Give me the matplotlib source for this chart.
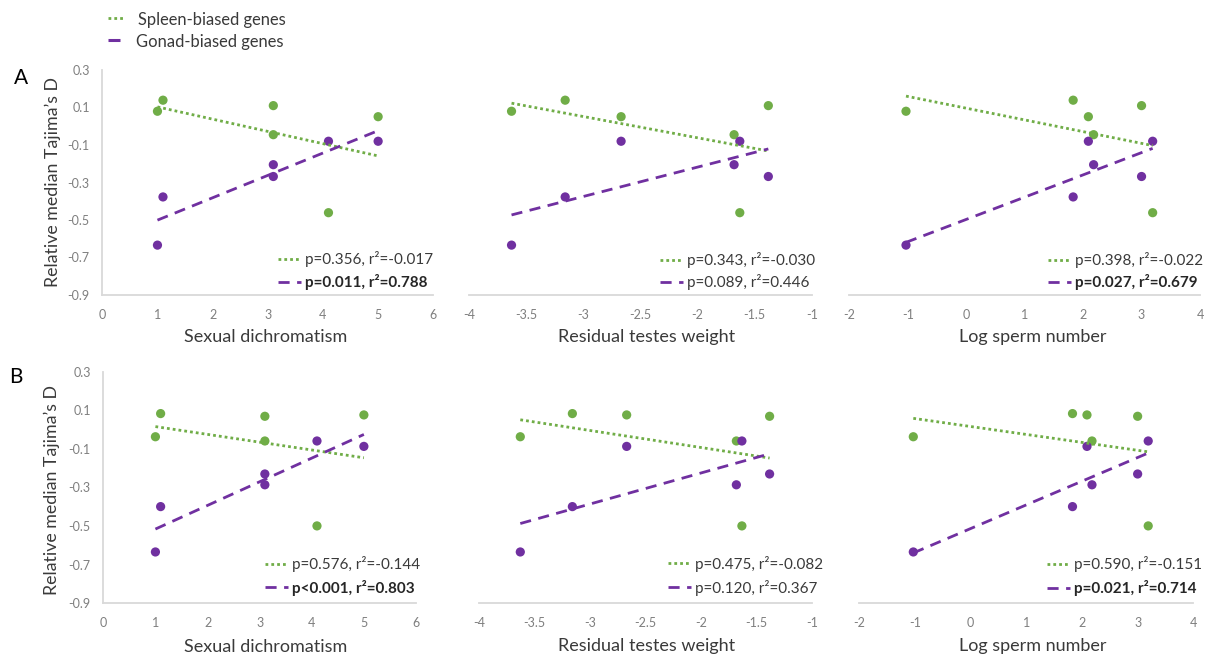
import numpy as np
import matplotlib
matplotlib.use("Agg")
import matplotlib.pyplot as plt
from matplotlib.lines import Line2D

plt.rcParams['font.family'] = ['Lato', 'DejaVu Sans']
plt.rcParams['axes.unicode_minus'] = False

# ---- data (six species; same species order in every array) ----
sexual_dichromatism = [1.0, 1.1, 5.0, 3.1, 4.1, 3.1]
residual_testes_weight = [-3.63, -3.16, -2.67, -1.68, -1.63, -1.38]
log_sperm_number = [-1.03, 1.83, 2.09, 2.18, 3.19, 3.00]

# Relative median Tajima's D, panel A
a_spleen = [0.080, 0.139, 0.051, -0.045, -0.461, 0.110]
a_gonad = [-0.634, -0.377, -0.080, -0.205, -0.080, -0.268]
# Relative median Tajima's D, panel B
b_spleen = [-0.037, 0.083, 0.076, -0.059, -0.499, 0.069]
b_gonad = [-0.634, -0.399, -0.087, -0.286, -0.059, -0.230]

predictor_labels = ["Sexual dichromatism", "Residual testes weight", "Log sperm number"]
x_limits = [(0, 6), (-4, -1), (-2, 4)]
x_ticks = [[0, 1, 2, 3, 4, 5, 6],
           [-4, -3.5, -3, -2.5, -2, -1.5, -1],
           [-2, -1, 0, 1, 2, 3, 4]]
y_ticks = [-0.9, -0.7, -0.5, -0.3, -0.1, 0.1, 0.3]

# regression statistics: (p, r2, significant) for spleen and gonad
a_spleen_stats = [("p=0.356", "-0.017", False), ("p=0.343", "-0.030", False), ("p=0.398", "-0.022", False)]
a_gonad_stats = [("p=0.011", "0.788", True), ("p=0.089", "0.446", False), ("p=0.027", "0.679", True)]
b_spleen_stats = [("p=0.576", "-0.144", False), ("p=0.475", "-0.082", False), ("p=0.590", "-0.151", False)]
b_gonad_stats = [("p<0.001", "0.803", True), ("p=0.120", "0.367", False), ("p=0.021", "0.714", True)]

GREEN = "#70AD47"
PURPLE = "#7030A0"
TEXT = "#3A3A3A"
TICK = "#7F7F7F"
AXIS = "#D9D9D9"

W, H = 1213, 662
fig = plt.figure(figsize=(W / 100, H / 100), dpi=100)
fig.patch.set_facecolor("white")

# pixel boxes for the plotting areas: (left, right, top, bottom)
boxes = {
    ("A", 0): (102.3, 433.3, 70, 295),
    ("A", 1): (469.3, 811.7, 70, 295),
    ("A", 2): (849.3, 1200.0, 70, 295),
    ("B", 0): (103.3, 416.0, 371.7, 603.3),
    ("B", 1): (479.3, 811.7, 371.7, 603.3),
    ("B", 2): (859.3, 1193.3, 371.7, 603.3),
}
# x-axis title centres (x) per column and baseline centres (y) per row
xlabel_x = [265.5, 647, 1033]
xlabel_y = {"A": 337, "B": 646.5}

predictors = [sexual_dichromatism, residual_testes_weight, log_sperm_number]
rows = {"A": (a_spleen, a_gonad, a_spleen_stats, a_gonad_stats),
        "B": (b_spleen, b_gonad, b_spleen_stats, b_gonad_stats)}

DOT = dict(color=GREEN, lw=2.0, linestyle=(0, (1, 1.1)), solid_capstyle="butt", dash_capstyle="butt")
DASH = dict(color=PURPLE, lw=2.0, linestyle=(0, (4, 2.7)), dash_capstyle="butt")

for row, (spleen, gonad, sst, gst) in rows.items():
    for col in range(3):
        l, r, t, b = boxes[(row, col)]
        ax = fig.add_axes([l / W, 1 - b / H, (r - l) / W, (b - t) / H])
        ax.set_facecolor("none")
        x = np.asarray(predictors[col])
        ax.set_xlim(*x_limits[col])
        ax.set_ylim(-0.9, 0.3)
        for s in ["top", "right"]:
            ax.spines[s].set_visible(False)
        ax.spines["bottom"].set_color(AXIS)
        ax.spines["bottom"].set_linewidth(1.3)
        if col == 0:
            ax.spines["left"].set_color(AXIS)
            ax.spines["left"].set_linewidth(1.3)
            ax.set_yticks(y_ticks)
            ax.set_yticklabels([f"{v:g}" for v in y_ticks])
        else:
            ax.spines["left"].set_visible(False)
            ax.set_yticks([])
        ax.set_xticks(x_ticks[col])
        ax.set_xticklabels([f"{v:g}" for v in x_ticks[col]])
        ax.tick_params(length=0, labelsize=9, labelcolor=TICK, pad=10)
        ax.tick_params(axis="y", pad=9)

        ax.scatter(x, spleen, s=44, color=GREEN, edgecolors="none", zorder=3, clip_on=False)
        ax.scatter(x, gonad, s=44, color=PURPLE, edgecolors="none", zorder=3, clip_on=False)

        xs = np.array([x.min(), x.max()])
        for yv, style in ((spleen, DOT), (gonad, DASH)):
            k, c = np.polyfit(x, yv, 1)
            ax.plot(xs, k * xs + c, zorder=4, **style)

# overlay in pixel coordinates for panel letters, titles, legend and statistics
ov = fig.add_axes([0, 0, 1, 1])
ov.set_xlim(0, W)
ov.set_ylim(H, 0)
ov.axis("off")
ov.patch.set_alpha(0)

ov.text(21, 78, "A", fontsize=15, color="black", ha="center", va="center")
ov.text(16, 377, "B", fontsize=15, color="black", ha="center", va="center")
ov.text(52.5, 182, "Relative median Tajima\u2019s D", rotation=90, fontsize=12.8,
        color=TEXT, ha="center", va="center")
ov.text(51.5, 490, "Relative median Tajima\u2019s D", rotation=90, fontsize=12.8,
        color=TEXT, ha="center", va="center")
for row in ("A", "B"):
    for col in range(3):
        ov.text(xlabel_x[col], xlabel_y[row], predictor_labels[col], fontsize=13,
                color=TEXT, ha="center", va="center")

# legend
ov.add_line(Line2D([108, 123], [17.5, 17.5], **DOT))
ov.add_line(Line2D([108, 120], [39.5, 39.5], color=PURPLE, lw=2.2, solid_capstyle="butt"))
ov.text(137.5, 19.5, "Spleen-biased genes", fontsize=11.9, color=TEXT, ha="left", va="center")
ov.text(135.5, 42.5, "Gonad-biased genes", fontsize=11.9, color=TEXT, ha="left", va="center")

# statistics text positions: (text left x, first row y, second row y)
stat_pos = {
    ("A", 0): (305, 258.5, 281.5),
    ("A", 1): (687, 259.5, 282),
    ("A", 2): (1075, 260, 282),
    ("B", 0): (292, 563.5, 587),
    ("B", 1): (695, 563, 587),
    ("B", 2): (1074, 563.5, 587.5),
}
for row, (spleen, gonad, sst, gst) in rows.items():
    for col in range(3):
        tx, y1, y2 = stat_pos[(row, col)]
        for (p, r2, bold), yy, style in ((sst[col], y1, DOT), (gst[col], y2, DASH)):
            ov.add_line(Line2D([tx - 27, tx - 4], [yy, yy], **style))
            ov.text(tx, yy + 0.5, f"{p}, r\u00b2={r2}", fontsize=11,
                    color="#262626" if bold else TEXT,
                    fontweight="bold" if bold else "normal", ha="left", va="center")

fig.savefig("out.png", dpi=100, facecolor="white")
